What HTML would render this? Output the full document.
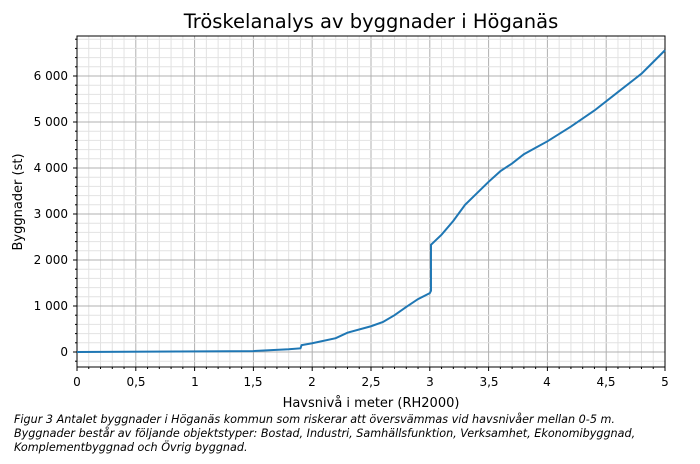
<!DOCTYPE html>
<html><head><meta charset="utf-8"><style>
body{margin:0;background:#fff;width:700px;height:459px;overflow:hidden}
svg text{font-family:"DejaVu Sans","Liberation Sans",sans-serif;fill:#000}
</style></head><body>
<svg id="s" width="700" height="459" xmlns="http://www.w3.org/2000/svg">
<g id="grid"></g>
<rect x="77" y="36" width="588" height="331" fill="none" stroke="#000" stroke-width="1"/>
<text x="371" y="28" font-size="19.5" text-anchor="middle">Tröskelanalys av byggnader i Höganäs</text>
<g font-size="12" text-anchor="middle">
<text x="77" y="386">0</text><text x="136" y="386">0,5</text><text x="195" y="386">1</text><text x="253" y="386">1,5</text><text x="312" y="386">2</text><text x="371" y="386">2,5</text><text x="430" y="386">3</text><text x="489" y="386">3,5</text><text x="547" y="386">4</text><text x="606" y="386">4,5</text><text x="665" y="386">5</text>
</g>
<g font-size="12" text-anchor="end">
<text x="68" y="356">0</text><text x="68" y="310">1 000</text><text x="68" y="264">2 000</text><text x="68" y="218">3 000</text><text x="68" y="172">4 000</text><text x="68" y="126">5 000</text><text x="68" y="80">6 000</text>
</g>
<text x="371" y="407" font-size="13" text-anchor="middle">Havsnivå i meter (RH2000)</text>
<text transform="translate(22,202) rotate(-90)" font-size="13" text-anchor="middle">Byggnader (st)</text>
<g font-size="11.2" font-style="italic">
<text x="14" y="423">Figur 3 Antalet byggnader i Höganäs kommun som riskerar att översvämmas vid havsnivåer mellan 0-5 m.</text>
<text x="14" y="437">Byggnader består av följande objektstyper: Bostad, Industri, Samhällsfunktion, Verksamhet, Ekonomibyggnad,</text>
<text x="14" y="451">Komplementbyggnad och Övrig byggnad.</text>
</g>
<polyline id="line" fill="none" stroke="#1f77b4" stroke-width="2"/>
</svg>
<script>
var g=document.getElementById('grid'),h='';
function X(x){return 77+x*117.6}function Y(v){return 352-v*0.046}
for(var i=0;i<=50;i++){var x=X(i/10);var maj=i%5==0;
h+='<line x1="'+x+'" y1="36" x2="'+x+'" y2="367" stroke="'+(maj?'#b0b0b0':'#e2e2e2')+'" stroke-width="1"/>';
h+='<line x1="'+x+'" y1="367" x2="'+x+'" y2="'+(maj?371:369)+'" stroke="#000"/>';}
for(var v=-200;v<=6800;v+=200){var y=Y(v);var maj=v%1000==0;
h+='<line x1="77" y1="'+y+'" x2="665" y2="'+y+'" stroke="'+(maj?'#b0b0b0':'#e2e2e2')+'" stroke-width="1"/>';
h+='<line x1="'+(maj?73:75)+'" y1="'+y+'" x2="77" y2="'+y+'" stroke="#000"/>';}
g.innerHTML=h;
var d=[[0,0],[1.5,20],[1.8,60],[1.9,80],[1.91,150],[2,190],[2.2,300],[2.3,420],[2.5,560],[2.6,650],[2.7,800],[2.8,980],[2.9,1150],[3.0,1280],[3.01,1330],[3.01,2330],[3.1,2550],[3.2,2850],[3.3,3200],[3.4,3450],[3.5,3700],[3.6,3930],[3.7,4100],[3.8,4300],[3.9,4440],[4.0,4580],[4.2,4900],[4.4,5250],[4.6,5650],[4.8,6050],[5.0,6560]];
document.getElementById('line').setAttribute('points',d.map(function(p){return X(p[0])+','+Y(p[1])}).join(' '));
</script>
</body></html>
